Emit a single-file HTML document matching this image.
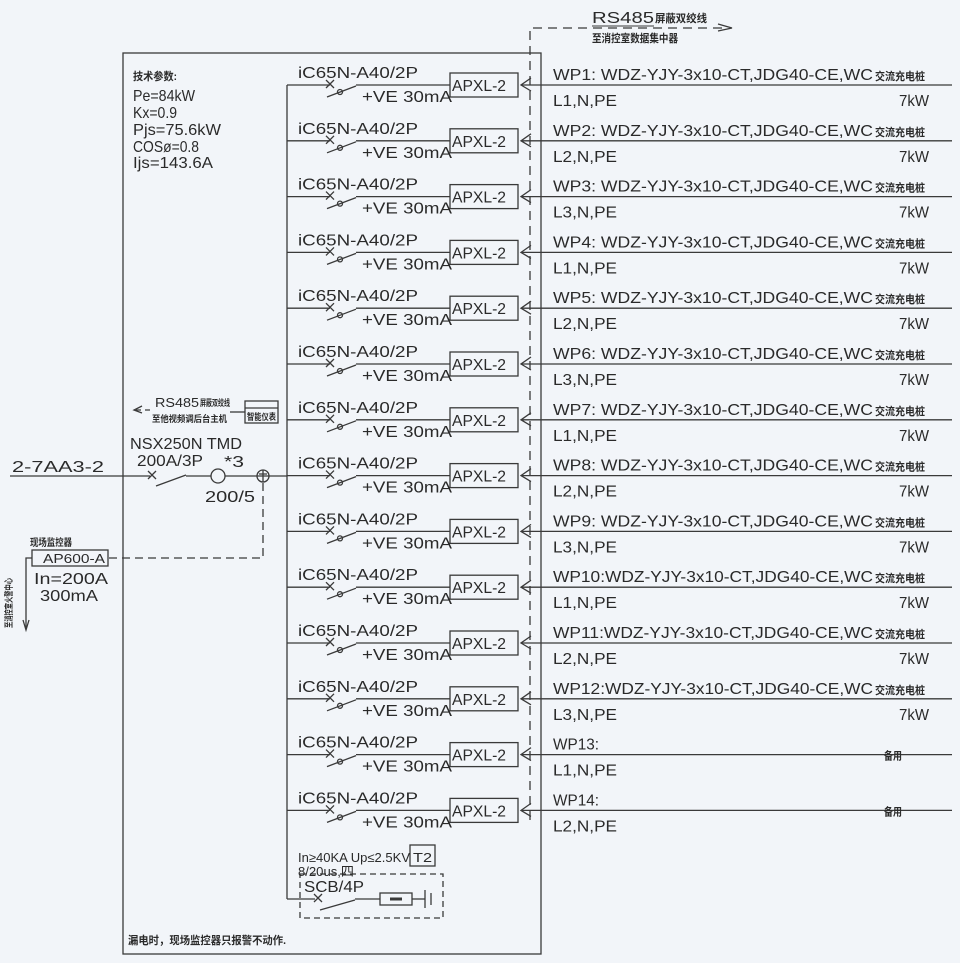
<!DOCTYPE html>
<html><head><meta charset="utf-8"><style>
html,body{margin:0;padding:0;background:#f2f5f9}
svg{display:block}
text{font-family:"Liberation Sans","Noto Sans CJK SC",sans-serif;fill:#2a2a2a}
.t{font-size:16px}
.s{font-size:11px;font-weight:bold}
</style></head><body>
<svg width="960" height="963" viewBox="0 0 960 963" xmlns="http://www.w3.org/2000/svg">
<defs>
<g id="row" stroke="#3a3a3a" stroke-width="1.3" fill="none">
<line x1="287" y1="0" x2="330" y2="0"/>
<path d="M326 -5 l8 8 M334 -5 l-8 8"/>
<line x1="327" y1="12" x2="356" y2="1"/>
<circle cx="340" cy="7" r="2.5"/>
<line x1="356" y1="0" x2="450" y2="0"/>
<rect x="450" y="-12" width="68" height="24"/>
<path d="M531 -7 L521 0 L531 6"/>
<line x1="521" y1="0" x2="952" y2="0"/>
</g>
</defs>
<!-- outer box -->
<rect x="123" y="53" width="418" height="901" fill="none" stroke="#3a3a3a" stroke-width="1.3"/>
<!-- bus -->
<line x1="287" y1="85" x2="287" y2="899" stroke="#3a3a3a" stroke-width="1.3"/>
<!-- dashed RS485 -->
<path d="M530 820 V28 H728" fill="none" stroke="#3a3a3a" stroke-width="1.3" stroke-dasharray="9,6"/>
<path d="M718 24 L732 28 L718 31" fill="none" stroke="#3a3a3a" stroke-width="1.2"/>
<text x="592" y="23" class="t" textLength="62" lengthAdjust="spacingAndGlyphs">RS485</text>
<line x1="592" y1="26" x2="654" y2="26" stroke="#3a3a3a"/>
<text x="655" y="22" class="s" textLength="52" lengthAdjust="spacingAndGlyphs">屏蔽双绞线</text>
<text x="592" y="42" class="s" textLength="86" lengthAdjust="spacingAndGlyphs">至消控室数据集中器</text>

<!-- params -->
<text x="133" y="80" class="s" textLength="44" lengthAdjust="spacingAndGlyphs">技术参数:</text>
<text x="133" y="101" class="t" textLength="62" lengthAdjust="spacingAndGlyphs">Pe=84kW</text>
<text x="133" y="118" class="t" textLength="44" lengthAdjust="spacingAndGlyphs">Kx=0.9</text>
<text x="133" y="135" class="t" textLength="88" lengthAdjust="spacingAndGlyphs">Pjs=75.6kW</text>
<text x="133" y="152" class="t" textLength="66" lengthAdjust="spacingAndGlyphs">COSø=0.8</text>
<text x="133" y="168" class="t" textLength="80" lengthAdjust="spacingAndGlyphs">Ijs=143.6A</text>

<!-- rows -->
<g transform="translate(0,85)"><use href="#row"/><text x="298" y="-7" class="t" textLength="120" lengthAdjust="spacingAndGlyphs">iC65N-A40/2P</text><text x="362" y="17" class="t" textLength="90" lengthAdjust="spacingAndGlyphs">+VE 30mA</text><text x="452" y="6" class="t" textLength="54" lengthAdjust="spacingAndGlyphs">APXL-2</text><text x="553" y="-5" class="t" textLength="320" lengthAdjust="spacingAndGlyphs">WP1: WDZ-YJY-3x10-CT,JDG40-CE,WC</text><text x="875" y="-5" class="s" textLength="50" lengthAdjust="spacingAndGlyphs">交流充电桩</text><text x="553" y="21" class="t" textLength="64" lengthAdjust="spacingAndGlyphs">L1,N,PE</text><text x="899" y="21" class="t" textLength="30" lengthAdjust="spacingAndGlyphs">7kW</text></g>
<g transform="translate(0,140.8)"><use href="#row"/><text x="298" y="-7" class="t" textLength="120" lengthAdjust="spacingAndGlyphs">iC65N-A40/2P</text><text x="362" y="17" class="t" textLength="90" lengthAdjust="spacingAndGlyphs">+VE 30mA</text><text x="452" y="6" class="t" textLength="54" lengthAdjust="spacingAndGlyphs">APXL-2</text><text x="553" y="-5" class="t" textLength="320" lengthAdjust="spacingAndGlyphs">WP2: WDZ-YJY-3x10-CT,JDG40-CE,WC</text><text x="875" y="-5" class="s" textLength="50" lengthAdjust="spacingAndGlyphs">交流充电桩</text><text x="553" y="21" class="t" textLength="64" lengthAdjust="spacingAndGlyphs">L2,N,PE</text><text x="899" y="21" class="t" textLength="30" lengthAdjust="spacingAndGlyphs">7kW</text></g>
<g transform="translate(0,196.6)"><use href="#row"/><text x="298" y="-7" class="t" textLength="120" lengthAdjust="spacingAndGlyphs">iC65N-A40/2P</text><text x="362" y="17" class="t" textLength="90" lengthAdjust="spacingAndGlyphs">+VE 30mA</text><text x="452" y="6" class="t" textLength="54" lengthAdjust="spacingAndGlyphs">APXL-2</text><text x="553" y="-5" class="t" textLength="320" lengthAdjust="spacingAndGlyphs">WP3: WDZ-YJY-3x10-CT,JDG40-CE,WC</text><text x="875" y="-5" class="s" textLength="50" lengthAdjust="spacingAndGlyphs">交流充电桩</text><text x="553" y="21" class="t" textLength="64" lengthAdjust="spacingAndGlyphs">L3,N,PE</text><text x="899" y="21" class="t" textLength="30" lengthAdjust="spacingAndGlyphs">7kW</text></g>
<g transform="translate(0,252.4)"><use href="#row"/><text x="298" y="-7" class="t" textLength="120" lengthAdjust="spacingAndGlyphs">iC65N-A40/2P</text><text x="362" y="17" class="t" textLength="90" lengthAdjust="spacingAndGlyphs">+VE 30mA</text><text x="452" y="6" class="t" textLength="54" lengthAdjust="spacingAndGlyphs">APXL-2</text><text x="553" y="-5" class="t" textLength="320" lengthAdjust="spacingAndGlyphs">WP4: WDZ-YJY-3x10-CT,JDG40-CE,WC</text><text x="875" y="-5" class="s" textLength="50" lengthAdjust="spacingAndGlyphs">交流充电桩</text><text x="553" y="21" class="t" textLength="64" lengthAdjust="spacingAndGlyphs">L1,N,PE</text><text x="899" y="21" class="t" textLength="30" lengthAdjust="spacingAndGlyphs">7kW</text></g>
<g transform="translate(0,308.2)"><use href="#row"/><text x="298" y="-7" class="t" textLength="120" lengthAdjust="spacingAndGlyphs">iC65N-A40/2P</text><text x="362" y="17" class="t" textLength="90" lengthAdjust="spacingAndGlyphs">+VE 30mA</text><text x="452" y="6" class="t" textLength="54" lengthAdjust="spacingAndGlyphs">APXL-2</text><text x="553" y="-5" class="t" textLength="320" lengthAdjust="spacingAndGlyphs">WP5: WDZ-YJY-3x10-CT,JDG40-CE,WC</text><text x="875" y="-5" class="s" textLength="50" lengthAdjust="spacingAndGlyphs">交流充电桩</text><text x="553" y="21" class="t" textLength="64" lengthAdjust="spacingAndGlyphs">L2,N,PE</text><text x="899" y="21" class="t" textLength="30" lengthAdjust="spacingAndGlyphs">7kW</text></g>
<g transform="translate(0,364)"><use href="#row"/><text x="298" y="-7" class="t" textLength="120" lengthAdjust="spacingAndGlyphs">iC65N-A40/2P</text><text x="362" y="17" class="t" textLength="90" lengthAdjust="spacingAndGlyphs">+VE 30mA</text><text x="452" y="6" class="t" textLength="54" lengthAdjust="spacingAndGlyphs">APXL-2</text><text x="553" y="-5" class="t" textLength="320" lengthAdjust="spacingAndGlyphs">WP6: WDZ-YJY-3x10-CT,JDG40-CE,WC</text><text x="875" y="-5" class="s" textLength="50" lengthAdjust="spacingAndGlyphs">交流充电桩</text><text x="553" y="21" class="t" textLength="64" lengthAdjust="spacingAndGlyphs">L3,N,PE</text><text x="899" y="21" class="t" textLength="30" lengthAdjust="spacingAndGlyphs">7kW</text></g>
<g transform="translate(0,419.8)"><use href="#row"/><text x="298" y="-7" class="t" textLength="120" lengthAdjust="spacingAndGlyphs">iC65N-A40/2P</text><text x="362" y="17" class="t" textLength="90" lengthAdjust="spacingAndGlyphs">+VE 30mA</text><text x="452" y="6" class="t" textLength="54" lengthAdjust="spacingAndGlyphs">APXL-2</text><text x="553" y="-5" class="t" textLength="320" lengthAdjust="spacingAndGlyphs">WP7: WDZ-YJY-3x10-CT,JDG40-CE,WC</text><text x="875" y="-5" class="s" textLength="50" lengthAdjust="spacingAndGlyphs">交流充电桩</text><text x="553" y="21" class="t" textLength="64" lengthAdjust="spacingAndGlyphs">L1,N,PE</text><text x="899" y="21" class="t" textLength="30" lengthAdjust="spacingAndGlyphs">7kW</text></g>
<g transform="translate(0,475.6)"><use href="#row"/><text x="298" y="-7" class="t" textLength="120" lengthAdjust="spacingAndGlyphs">iC65N-A40/2P</text><text x="362" y="17" class="t" textLength="90" lengthAdjust="spacingAndGlyphs">+VE 30mA</text><text x="452" y="6" class="t" textLength="54" lengthAdjust="spacingAndGlyphs">APXL-2</text><text x="553" y="-5" class="t" textLength="320" lengthAdjust="spacingAndGlyphs">WP8: WDZ-YJY-3x10-CT,JDG40-CE,WC</text><text x="875" y="-5" class="s" textLength="50" lengthAdjust="spacingAndGlyphs">交流充电桩</text><text x="553" y="21" class="t" textLength="64" lengthAdjust="spacingAndGlyphs">L2,N,PE</text><text x="899" y="21" class="t" textLength="30" lengthAdjust="spacingAndGlyphs">7kW</text></g>
<g transform="translate(0,531.4)"><use href="#row"/><text x="298" y="-7" class="t" textLength="120" lengthAdjust="spacingAndGlyphs">iC65N-A40/2P</text><text x="362" y="17" class="t" textLength="90" lengthAdjust="spacingAndGlyphs">+VE 30mA</text><text x="452" y="6" class="t" textLength="54" lengthAdjust="spacingAndGlyphs">APXL-2</text><text x="553" y="-5" class="t" textLength="320" lengthAdjust="spacingAndGlyphs">WP9: WDZ-YJY-3x10-CT,JDG40-CE,WC</text><text x="875" y="-5" class="s" textLength="50" lengthAdjust="spacingAndGlyphs">交流充电桩</text><text x="553" y="21" class="t" textLength="64" lengthAdjust="spacingAndGlyphs">L3,N,PE</text><text x="899" y="21" class="t" textLength="30" lengthAdjust="spacingAndGlyphs">7kW</text></g>
<g transform="translate(0,587.2)"><use href="#row"/><text x="298" y="-7" class="t" textLength="120" lengthAdjust="spacingAndGlyphs">iC65N-A40/2P</text><text x="362" y="17" class="t" textLength="90" lengthAdjust="spacingAndGlyphs">+VE 30mA</text><text x="452" y="6" class="t" textLength="54" lengthAdjust="spacingAndGlyphs">APXL-2</text><text x="553" y="-5" class="t" textLength="320" lengthAdjust="spacingAndGlyphs">WP10:WDZ-YJY-3x10-CT,JDG40-CE,WC</text><text x="875" y="-5" class="s" textLength="50" lengthAdjust="spacingAndGlyphs">交流充电桩</text><text x="553" y="21" class="t" textLength="64" lengthAdjust="spacingAndGlyphs">L1,N,PE</text><text x="899" y="21" class="t" textLength="30" lengthAdjust="spacingAndGlyphs">7kW</text></g>
<g transform="translate(0,643)"><use href="#row"/><text x="298" y="-7" class="t" textLength="120" lengthAdjust="spacingAndGlyphs">iC65N-A40/2P</text><text x="362" y="17" class="t" textLength="90" lengthAdjust="spacingAndGlyphs">+VE 30mA</text><text x="452" y="6" class="t" textLength="54" lengthAdjust="spacingAndGlyphs">APXL-2</text><text x="553" y="-5" class="t" textLength="320" lengthAdjust="spacingAndGlyphs">WP11:WDZ-YJY-3x10-CT,JDG40-CE,WC</text><text x="875" y="-5" class="s" textLength="50" lengthAdjust="spacingAndGlyphs">交流充电桩</text><text x="553" y="21" class="t" textLength="64" lengthAdjust="spacingAndGlyphs">L2,N,PE</text><text x="899" y="21" class="t" textLength="30" lengthAdjust="spacingAndGlyphs">7kW</text></g>
<g transform="translate(0,698.8)"><use href="#row"/><text x="298" y="-7" class="t" textLength="120" lengthAdjust="spacingAndGlyphs">iC65N-A40/2P</text><text x="362" y="17" class="t" textLength="90" lengthAdjust="spacingAndGlyphs">+VE 30mA</text><text x="452" y="6" class="t" textLength="54" lengthAdjust="spacingAndGlyphs">APXL-2</text><text x="553" y="-5" class="t" textLength="320" lengthAdjust="spacingAndGlyphs">WP12:WDZ-YJY-3x10-CT,JDG40-CE,WC</text><text x="875" y="-5" class="s" textLength="50" lengthAdjust="spacingAndGlyphs">交流充电桩</text><text x="553" y="21" class="t" textLength="64" lengthAdjust="spacingAndGlyphs">L3,N,PE</text><text x="899" y="21" class="t" textLength="30" lengthAdjust="spacingAndGlyphs">7kW</text></g>
<g transform="translate(0,754.6)"><use href="#row"/><text x="298" y="-7" class="t" textLength="120" lengthAdjust="spacingAndGlyphs">iC65N-A40/2P</text><text x="362" y="17" class="t" textLength="90" lengthAdjust="spacingAndGlyphs">+VE 30mA</text><text x="452" y="6" class="t" textLength="54" lengthAdjust="spacingAndGlyphs">APXL-2</text><text x="553" y="-5" class="t" textLength="46" lengthAdjust="spacingAndGlyphs">WP13:</text><text x="884" y="5" class="s" textLength="18" lengthAdjust="spacingAndGlyphs">备用</text><text x="553" y="21" class="t" textLength="64" lengthAdjust="spacingAndGlyphs">L1,N,PE</text></g>
<g transform="translate(0,810.4)"><use href="#row"/><text x="298" y="-7" class="t" textLength="120" lengthAdjust="spacingAndGlyphs">iC65N-A40/2P</text><text x="362" y="17" class="t" textLength="90" lengthAdjust="spacingAndGlyphs">+VE 30mA</text><text x="452" y="6" class="t" textLength="54" lengthAdjust="spacingAndGlyphs">APXL-2</text><text x="553" y="-5" class="t" textLength="46" lengthAdjust="spacingAndGlyphs">WP14:</text><text x="884" y="5" class="s" textLength="18" lengthAdjust="spacingAndGlyphs">备用</text><text x="553" y="21" class="t" textLength="64" lengthAdjust="spacingAndGlyphs">L2,N,PE</text></g>

<!-- SPD -->
<g stroke="#3a3a3a" stroke-width="1.3" fill="none">
<line x1="287" y1="899" x2="315" y2="899"/>
<path d="M314 894 l8 8 M322 894 l-8 8"/>
<line x1="320" y1="910" x2="355" y2="900"/>
<line x1="355" y1="899" x2="380" y2="899"/>
<rect x="380" y="893" width="32" height="12"/>
<line x1="390" y1="899" x2="402" y2="899" stroke-width="3"/>
<line x1="412" y1="899" x2="425" y2="899"/>
<line x1="425" y1="890" x2="425" y2="908"/>
<line x1="431" y1="893" x2="431" y2="905"/>
<rect x="300" y="874" width="143" height="44" stroke-dasharray="6,4"/>
<rect x="410" y="845" width="25" height="21"/>
</g>
<text x="298" y="862" class="t" font-size="13" textLength="112" lengthAdjust="spacingAndGlyphs" style="font-size:13px">In≥40KA Up≤2.5KV</text>
<text x="413" y="862" class="t" textLength="19" lengthAdjust="spacingAndGlyphs" style="font-size:13px">T2</text>
<text x="298" y="876" class="t" textLength="56" lengthAdjust="spacingAndGlyphs" style="font-size:13px">8/20us,四</text>
<text x="304" y="892" class="t" textLength="60" lengthAdjust="spacingAndGlyphs">SCB/4P</text>
<text x="128" y="944" class="s" textLength="158" lengthAdjust="spacingAndGlyphs">漏电时，现场监控器只报警不动作.</text>

<!-- left incoming -->
<g stroke="#3a3a3a" stroke-width="1.3" fill="none">
<line x1="10" y1="476" x2="150" y2="476"/>
<path d="M148 471 l8 8 M156 471 l-8 8"/>
<line x1="156" y1="486" x2="186" y2="475"/>
<line x1="186" y1="476" x2="211" y2="476"/>
<circle cx="218" cy="476" r="7"/>
<line x1="225" y1="476" x2="287" y2="476"/>
<circle cx="263" cy="476" r="6"/>
<path d="M263 470 v12 M259 474 h8"/>
<path d="M263 483 V558 H108" stroke-dasharray="8,5"/>
<rect x="32" y="550" width="76" height="16"/>
<path d="M32 558 H26 V628"/>
<path d="M23 620 L26 630 L29 620"/>
<rect x="245" y="401" width="33" height="22"/>
<line x1="245" y1="408" x2="278" y2="408"/>
<path d="M150 410 H135" stroke-dasharray="5,4"/>
<path d="M142 406 L134 410 L142 413"/>
<line x1="230" y1="412" x2="245" y2="412"/>
</g>
<text x="12" y="472" class="t" textLength="92" lengthAdjust="spacingAndGlyphs">2-7AA3-2</text>
<text x="130" y="449" class="t" textLength="112" lengthAdjust="spacingAndGlyphs">NSX250N TMD</text>
<text x="137" y="466" class="t" textLength="66" lengthAdjust="spacingAndGlyphs">200A/3P</text>
<text x="224" y="467" class="t" textLength="20" lengthAdjust="spacingAndGlyphs">*3</text>
<text x="205" y="502" class="t" textLength="50" lengthAdjust="spacingAndGlyphs">200/5</text>
<text x="155" y="407" class="t" style="font-size:13px" textLength="44" lengthAdjust="spacingAndGlyphs">RS485</text>
<text x="200" y="406" class="s" style="font-size:9px" textLength="30" lengthAdjust="spacingAndGlyphs">屏蔽双绞线</text>
<text x="152" y="422" class="s" style="font-size:9px" textLength="75" lengthAdjust="spacingAndGlyphs">至他视频调后台主机</text>
<text x="247" y="420" class="s" style="font-size:9px" textLength="29" lengthAdjust="spacingAndGlyphs">智能仪表</text>
<text x="30" y="546" class="s" style="font-size:10px" textLength="42" lengthAdjust="spacingAndGlyphs">现场监控器</text>
<text x="43" y="563" class="t" style="font-size:13px" textLength="62" lengthAdjust="spacingAndGlyphs">AP600-A</text>
<text x="34" y="584" class="t" textLength="74" lengthAdjust="spacingAndGlyphs">In=200A</text>
<text x="40" y="601" class="t" textLength="58" lengthAdjust="spacingAndGlyphs">300mA</text>
<text transform="translate(12,628) rotate(-90)" class="s" style="font-size:9px" textLength="50" lengthAdjust="spacingAndGlyphs">至消控室火警中心</text>
</svg>
</body></html>
